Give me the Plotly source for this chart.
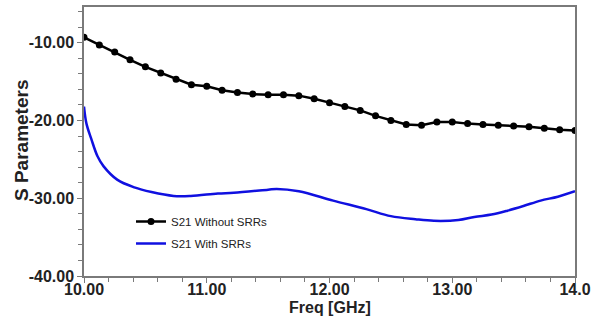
import plotly.graph_objects as go

# S21 without SRRs (black, markers every 0.125 GHz)
freq_a = [10.0 + 0.125 * i for i in range(33)]
s21_without = [-9.3, -10.3, -11.2, -12.2, -13.1, -13.9, -14.7, -15.4, -15.6, -16.1,
               -16.4, -16.6, -16.7, -16.7, -16.8, -17.2, -17.7, -18.2, -18.7, -19.4,
               -20.0, -20.5, -20.6, -20.2, -20.2, -20.4, -20.5, -20.6, -20.7, -20.8,
               -21.0, -21.2, -21.3]

# S21 with SRRs (blue)
freq_b = [10.0, 10.02, 10.06, 10.11, 10.16, 10.27, 10.41, 10.55, 10.73, 10.87,
          11.09, 11.22, 11.5, 11.57, 11.75, 12.03, 12.3, 12.5, 12.7, 12.85,
          13.05, 13.18, 13.32, 13.45, 13.58, 13.72, 13.86, 14.0]
s21_with = [-18.2, -20.4, -22.4, -24.6, -25.9, -27.6, -28.6, -29.2, -29.7, -29.7,
            -29.4, -29.3, -28.9, -28.8, -29.1, -30.3, -31.4, -32.3, -32.7, -32.9,
            -32.8, -32.4, -32.1, -31.6, -31.0, -30.3, -29.8, -29.1]

x_ticks = [10, 11, 12, 13, 14]
x_ticktext = ["10.00", "11.00", "12.00", "13.00", "14.0"]
y_ticks = [-40, -30, -20, -10]
y_ticktext = ["-40.00", "-30.00", "-20.00", "-10.00"]

FONT = "Liberation Sans, Arial, sans-serif"

fig = go.Figure()
fig.add_trace(go.Scatter(
    x=freq_a, y=s21_without, mode="lines+markers", name="S21 Without SRRs",
    line=dict(color="black", width=2.5), marker=dict(color="black", size=7),
    legendgroup="a"))
fig.add_trace(go.Scatter(
    x=freq_b, y=s21_with, mode="lines", name="S21 With SRRs",
    line=dict(color="#1010e0", width=2.5, shape="spline", smoothing=1.0),
    legendgroup="b"))

axis_common = dict(showgrid=False, zeroline=False, showline=True, linecolor="#7a7a7a",
                   linewidth=1.5, mirror=True, ticks="outside", tickcolor="#7a7a7a",
                   ticklen=5, tickwidth=1.2, automargin=False)

fig.update_xaxes(range=[10, 14], tickvals=x_ticks, ticktext=x_ticktext,
                 tickfont=dict(family=FONT, size=16, color="#222", weight="bold"),
                 ticklabelstandoff=-7,
                 minor=dict(dtick=0.2, ticklen=4, ticks="outside", tickcolor="#7a7a7a"),
                 **axis_common)
fig.update_yaxes(range=[-40, -5.4], tickvals=y_ticks, ticktext=y_ticktext,
                 tickfont=dict(family=FONT, size=16, color="#222", weight="bold"),
                 minor=dict(dtick=2, ticklen=4, ticks="outside", tickcolor="#7a7a7a"),
                 **axis_common)

fig.add_annotation(text="<b>Freq [GHz]</b>", xref="paper", yref="paper",
                   x=(330 - 84) / 491, y=-(307 - 276) / 269, showarrow=False,
                   font=dict(family=FONT, size=16, color="#222"),
                   xanchor="center", yanchor="middle")
fig.add_annotation(text="<b>S Parameters</b>", xref="paper", yref="paper",
                   x=-(84 - 21) / 491, y=(276 - 140) / 269, showarrow=False,
                   textangle=-90, font=dict(family=FONT, size=19, color="#222"),
                   xanchor="center", yanchor="middle")

fig.update_layout(
    width=593, height=323, margin=dict(l=84, r=18, t=7, b=47),
    paper_bgcolor="white", plot_bgcolor="white",
    showlegend=True,
    legend=dict(x=(131 - 84) / 491, y=(276 - 207) / 269, xanchor="left", yanchor="top",
                bgcolor="rgba(0,0,0,0)", traceorder="grouped", tracegroupgap=3,
                font=dict(family=FONT, size=11.5, color="#222")),
)

fig.write_html("out.html")
